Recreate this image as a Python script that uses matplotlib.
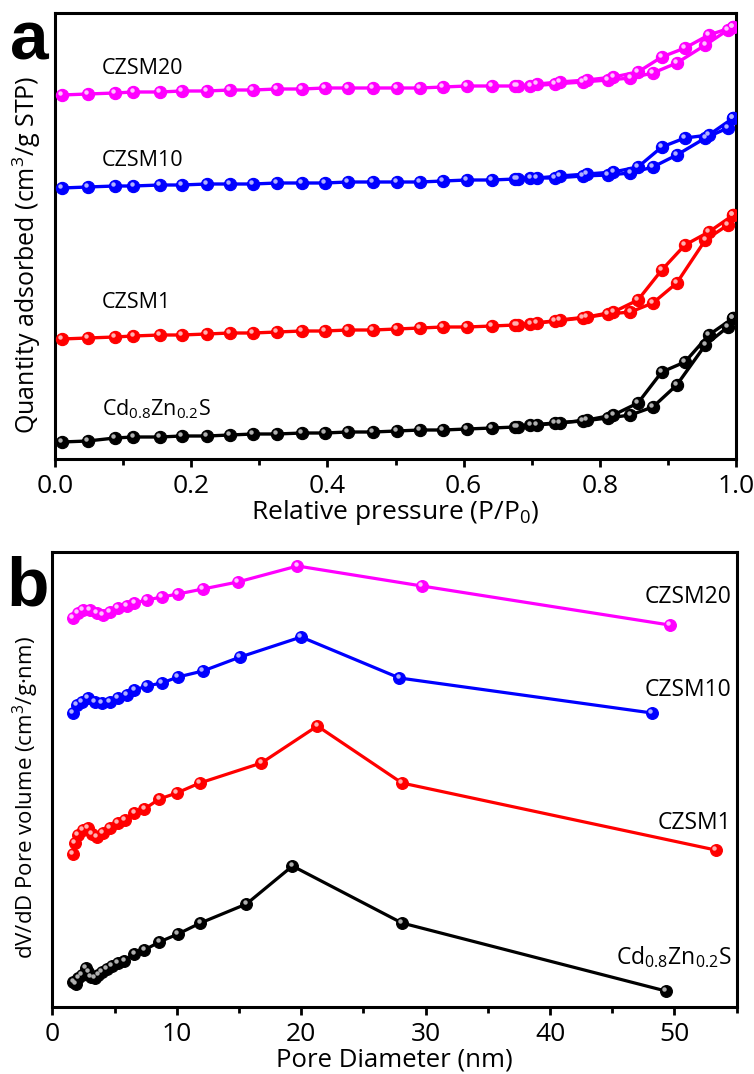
import matplotlib
matplotlib.use("Agg")
import matplotlib.pyplot as plt
from matplotlib.ticker import MultipleLocator, NullLocator
from matplotlib.transforms import ScaledTranslation

# ---------------- data: (a) N2 isotherms (arbitrary, offset units) ----------------
P_ADS = [0.010, 0.048, 0.088, 0.115, 0.154, 0.186, 0.223, 0.257, 0.291, 0.326,
         0.363, 0.396, 0.430, 0.467, 0.502, 0.536, 0.570, 0.605, 0.642, 0.676,
         0.698, 0.734, 0.775, 0.812, 0.845, 0.878, 0.913, 0.955, 0.988, 0.996]
P_DES = [0.996, 0.960, 0.925, 0.891, 0.856, 0.820, 0.781, 0.741, 0.708, 0.680]

Q_ADS_CZS = [17, 18, 21, 22, 22, 23, 23, 24, 25, 25, 26, 26, 27, 27, 28, 29, 29, 30,
             31, 32, 34, 36, 38, 41, 44, 52, 74, 114, 132, 141]
Q_DES_CZS = [141, 124, 97, 87, 56, 44, 39, 36, 34, 32]

Q_ADS_M1 = [120, 121, 122, 123, 124, 124, 125, 126, 126, 127, 128, 128, 129, 129,
            130, 131, 132, 132, 133, 134, 135, 138, 141, 145, 147, 156, 176, 219, 234, 244]
Q_DES_M1 = [244, 227, 214, 189, 159, 147, 142, 139, 136, 134]

Q_ADS_M10 = [271, 272, 273, 273, 274, 274, 275, 275, 275, 276, 276, 276, 277, 277,
             277, 277, 278, 279, 279, 280, 281, 281, 283, 284, 286, 292, 304, 321, 331, 341]
Q_DES_M10 = [341, 324, 321, 312, 292, 287, 285, 283, 281, 280]

Q_ADS_M20 = [364, 365, 366, 367, 367, 368, 368, 369, 369, 370, 370, 371, 371, 371,
             371, 371, 372, 373, 373, 373, 373, 375, 377, 379, 381, 386, 396, 414, 429, 432]
Q_DES_M20 = [432, 424, 411, 402, 387, 382, 379, 377, 375, 373]

# ---------------- data: (b) pore size distributions (arbitrary, offset units) ----------------
D_CZS = [1.7, 1.9, 2.1, 2.4, 2.7, 2.9, 3.1, 3.4, 3.7, 4.0, 4.4, 4.8, 5.3, 5.8, 6.6,
         7.4, 8.6, 10.1, 11.9, 15.6, 19.3, 28.1, 49.3]
V_CZS = [25, 23, 29, 32, 39, 35, 30, 29, 32, 35, 38, 41, 44, 46, 53, 57, 65, 73, 84,
         103, 141, 84, 16]

D_M1 = [1.66, 1.82, 2.06, 2.46, 2.87, 3.2, 3.6, 4.07, 4.6, 5.3, 5.84, 6.6, 7.4, 8.6,
        10.0, 11.85, 16.8, 21.3, 28.1, 53.3]
V_M1 = [153, 164, 172, 177, 179, 173, 170, 174, 179, 184, 187, 194, 198, 208, 214,
        224, 244, 281, 224, 157]

D_M10 = [1.66, 1.98, 2.4, 2.87, 3.4, 4.0, 4.6, 5.3, 6.0, 6.6, 7.6, 8.8, 10.1, 12.1,
         15.1, 20.0, 27.9, 48.2]
V_M10 = [294, 302, 305, 309, 305, 304, 305, 309, 312, 317, 321, 324, 330, 336, 350,
         370, 329, 294]

D_M20 = [1.66, 2.06, 2.46, 3.0, 3.6, 4.07, 4.6, 5.3, 6.0, 6.6, 7.6, 8.8, 10.1, 12.1,
         14.9, 19.7, 29.7, 49.6]
V_M20 = [389, 394, 397, 397, 394, 392, 395, 399, 401, 404, 407, 410, 413, 418, 425,
         441, 421, 382]

NAMES = ["Cd$_{0.8}$Zn$_{0.2}$S", "CZSM1", "CZSM10", "CZSM20"]
COLORS = ["#000000", "#ff0000", "#0000ff", "#ff00ff"]
HIGHLIGHTS = ["#b0b0b0", "#ffb0b0", "#b0b0ff", "#ffc0ff"]

# ---------------- style ----------------
FONT = "Open Sans"
plt.rcParams["font.family"] = [FONT, "DejaVu Sans"]
plt.rcParams["mathtext.fontset"] = "custom"
plt.rcParams["mathtext.rm"] = FONT
plt.rcParams["mathtext.it"] = FONT + ":italic"
plt.rcParams["mathtext.bf"] = FONT + ":bold"

W, H = 754, 1074
fig = plt.figure(figsize=(W / 100, H / 100), dpi=100)

ax1 = fig.add_axes([55 / W, 1 - 459 / H, 681 / W, 446 / H])
ax2 = fig.add_axes([52.3 / W, 1 - 1007 / H, 684.4 / W, 455 / H])

hl_offset = ScaledTranslation(-1.3 / 72, 1.3 / 72, fig.dpi_scale_trans)


def beads(ax, x, y, color, hl, ms=8.8, lw=2.4):
    ax.plot(x, y, color=color, lw=lw, marker="o", ms=ms, mfc=color, mec=color,
            mew=0.8, zorder=3, solid_joinstyle="round")
    ax.plot(x, y, ls="none", marker="o", ms=3.2, mfc=hl, mec="none",
            transform=ax.transData + hl_offset, zorder=4)


ads = [Q_ADS_CZS, Q_ADS_M1, Q_ADS_M10, Q_ADS_M20]
des = [Q_DES_CZS, Q_DES_M1, Q_DES_M10, Q_DES_M20]
for qa, qd, c, h in zip(ads, des, COLORS, HIGHLIGHTS):
    beads(ax1, P_DES, qd, c, h)
    beads(ax1, P_ADS, qa, c, h)

psd = [(D_CZS, V_CZS), (D_M1, V_M1), (D_M10, V_M10), (D_M20, V_M20)]
for (d, v), c, h in zip(psd, COLORS, HIGHLIGHTS):
    beads(ax2, d, v, c, h, ms=8.5, lw=2.3)

for ax, pad in ((ax1, 5), (ax2, 5)):
    for s in ax.spines.values():
        s.set_linewidth(2.2)
    ax.tick_params(axis="x", which="major", direction="out", length=6, width=2,
                   labelsize=19, pad=pad, top=False)
    ax.tick_params(axis="x", which="minor", direction="out", length=4, width=2, top=False)
    ax.yaxis.set_major_locator(NullLocator())
    ax.yaxis.set_minor_locator(NullLocator())

ax1.set_xlim(0, 1.0)
ax1.set_ylim(0, 446)
ax1.xaxis.set_major_locator(MultipleLocator(0.2))
ax1.xaxis.set_minor_locator(MultipleLocator(0.1))
ax1.set_xticklabels([f"{v:.1f}" for v in ax1.get_xticks()])
ax1.set_xlabel("Relative pressure (P/P$_0$)", fontsize=19, labelpad=-1)
ax1.set_ylabel("Quantity adsorbed (cm$^3$/g STP)", fontsize=18)
ax1.yaxis.set_label_coords(-0.018, 0.457)

ax2.set_xlim(0, 55)
ax2.set_ylim(0, 455)
ax2.xaxis.set_major_locator(MultipleLocator(10))
ax2.xaxis.set_minor_locator(MultipleLocator(5))
ax2.set_xlabel("Pore Diameter (nm)", fontsize=18.5, labelpad=0)
ax2.set_ylabel("dV/dD Pore volume (cm$^3$/g\u00b7nm)", fontsize=16)
ax2.yaxis.set_label_coords(-0.016, 0.46)

# labels in panel a
lab_a = [(0.069, 50), (0.069, 157), (0.069, 299), (0.069, 391)]
for (x, y), name in zip(lab_a, NAMES):
    ax1.text(x, y, name, fontsize=15.5, ha="left", va="center")

# labels in panel b
lab_b = [(54.6, 50), (54.6, 184), (54.6, 317), (54.6, 410)]
for (x, y), name in zip(lab_b, NAMES):
    ax2.text(x, y, name, fontsize=16.5, ha="right", va="center")

fig.text(10 / W, 1 - 60 / H, "a", fontsize=50, fontweight="bold",
         family="Liberation Sans", ha="left", va="baseline")
fig.text(6 / W, 1 - 605 / H, "b", fontsize=50, fontweight="bold",
         family="Liberation Sans", ha="left", va="baseline")

fig.savefig("out.png", dpi=100)
